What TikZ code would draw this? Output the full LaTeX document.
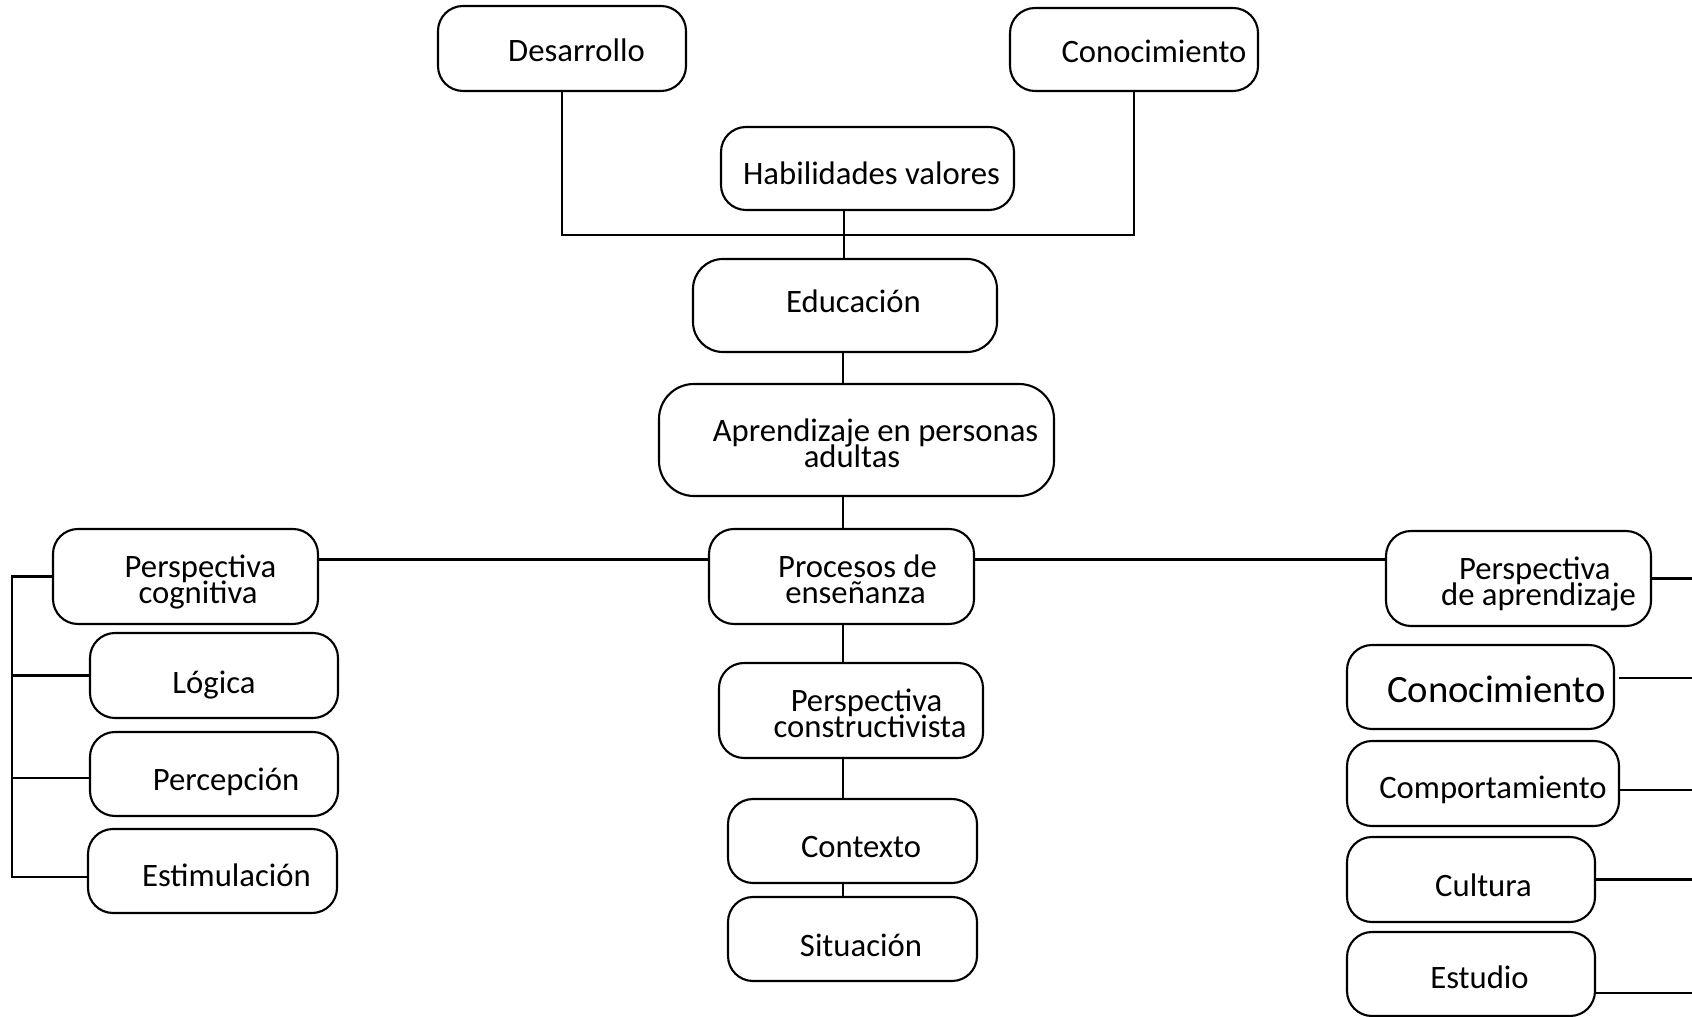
\documentclass[tikz,border=0pt]{standalone}
\usepackage{fontspec}
\setmainfont{Carlito}
\usepackage{tikz}
\newcommand{\pad}[1]{\hspace*{#1}}

\begin{document}
\begin{tikzpicture}[
	line width=1.2pt,
	caja/.style 2 args={draw, rounded corners=.5cm, align=center, inner sep=2pt,
		font={\fontsize{18.6}{15}\selectfont\lineskiplimit=-100pt},
		text height=.6cm, text depth=0pt, minimum width=#1cm, minimum height=#2cm},
	linea/.style={text height=#1}]
	\useasboundingbox (0,0) rectangle (33.84,20.32);

	\node[caja={4.96}{1.70}, linea=.54cm] (desarrollo) at (11.24,19.35) {\pad{.58cm}Desarrollo};
	\node[caja={4.96}{1.66}, linea=.54cm] (conocimiento) at (22.68,19.33) {\pad{.80cm}Conocimiento};
	\node[caja={5.86}{1.66}, linea=.64cm] (habilidades) at (17.35,16.95) {\pad{.16cm}Habilidades valores};
	\node[caja={6.08}{1.86}, linea=.30cm, rounded corners=.6cm] (educacion) at (16.90,14.21) {\pad{.34cm}Educación};
	\node[caja={7.90}{2.24}, linea=1.10cm, rounded corners=.7cm] (aprendizaje) at (17.13,11.52) {\pad{.76cm}Aprendizaje en personas\\\pad{-.18cm}adultas};
	\node[caja={5.30}{1.90}, linea=1.08cm] (procesos) at (16.83,8.79) {\pad{.64cm}Procesos de\\\pad{.56cm}enseñanza};
	\node[caja={5.30}{1.90}, linea=1.08cm] (cognitiva) at (3.71,8.79) {\pad{.60cm}Perspectiva\\\pad{.50cm}cognitiva};
	\node[caja={5.30}{1.90}, linea=1.08cm] (persaprendizaje) at (30.37,8.75) {\pad{.65cm}Perspectiva\\\pad{.80cm}de aprendizaje};
	\node[caja={5.28}{1.90}, linea=1.08cm] (constructivista) at (17.02,6.11) {\pad{.62cm}Perspectiva\\\pad{.76cm}constructivista};
	\node[caja={4.98}{1.68}, linea=.66cm] (contexto) at (17.05,3.50) {\pad{.34cm}Contexto};
	\node[caja={4.98}{1.68}, linea=.70cm] (situacion) at (17.05,1.54) {\pad{.34cm}Situación};
	\node[caja={4.96}{1.70}, linea=.74cm] (logica) at (4.28,6.81) {Lógica};
	\node[caja={4.96}{1.68}, linea=.66cm] (percepcion) at (4.28,4.84) {\pad{.48cm}Percepción};
	\node[caja={4.98}{1.68}, linea=.62cm] (estimulacion) at (4.25,2.90) {\pad{.56cm}Estimulación};
	\node[caja={5.34}{1.68}, linea=.62cm, font=\fontsize{22}{18}\selectfont] (conocimientob) at (29.61,6.58) {\pad{.64cm}Conocimiento};
	\node[caja={5.44}{1.70}, linea=.60cm] (comportamiento) at (29.66,4.65) {\pad{.40cm}Comportamiento};
	\node[caja={4.96}{1.70}, linea=.66cm] (cultura) at (29.42,2.73) {\pad{.50cm}Cultura};
	\node[caja={4.96}{1.68}, linea=.58cm] (estudio) at (29.42,0.84) {\pad{.34cm}Estudio};

	\coordinate (bar) at (16.88,15.62);
	\coordinate (eje) at (16.86,0);
	\coordinate (fila) at (0,9.13);
	\coordinate (izq) at (0.24,0);
	\coordinate (der) at (33.84,0);

	\draw (desarrollo.south) |- (bar) -| (conocimiento.south);
	\draw (bar) -- (bar |- habilidades.south);
	\draw (bar) -- (bar |- educacion.north);
	\draw (eje |- educacion.south) -- (eje |- aprendizaje.north);
	\draw (eje |- aprendizaje.south) -- (eje |- procesos.north);
	\draw (eje |- procesos.south) -- (eje |- constructivista.north);
	\draw (eje |- constructivista.south) -- (eje |- contexto.north);
	\draw (eje |- contexto.south) -- (eje |- situacion.north);

	\draw (cognitiva.east |- fila) -- (procesos.west |- fila);
	\draw (procesos.east |- fila) -- (persaprendizaje.west |- fila);

	\draw (cognitiva.west) -| ([yshift=-.12cm]izq |- estimulacion.west) -- ([yshift=-.12cm]estimulacion.west);
	\path [-]
	(logica.west) edge (izq |- logica.west)
	([yshift=-.08cm]percepcion.west) edge ([yshift=-.08cm]izq |- percepcion.west);

	\draw (persaprendizaje.east) -- (der |- persaprendizaje.east);
	\draw ([shift={(.08,.18)}]conocimientob.east) -- ([yshift=.18cm]conocimientob.east -| der);
	\draw ([yshift=-.13cm]comportamiento.east) -- ([yshift=-.13cm]comportamiento.east -| der);
	\draw (cultura.east) -- (der |- cultura.east);
	\draw ([yshift=-.38cm]estudio.east) -- ([yshift=-.38cm]estudio.east -| der);
\end{tikzpicture}
\end{document}
